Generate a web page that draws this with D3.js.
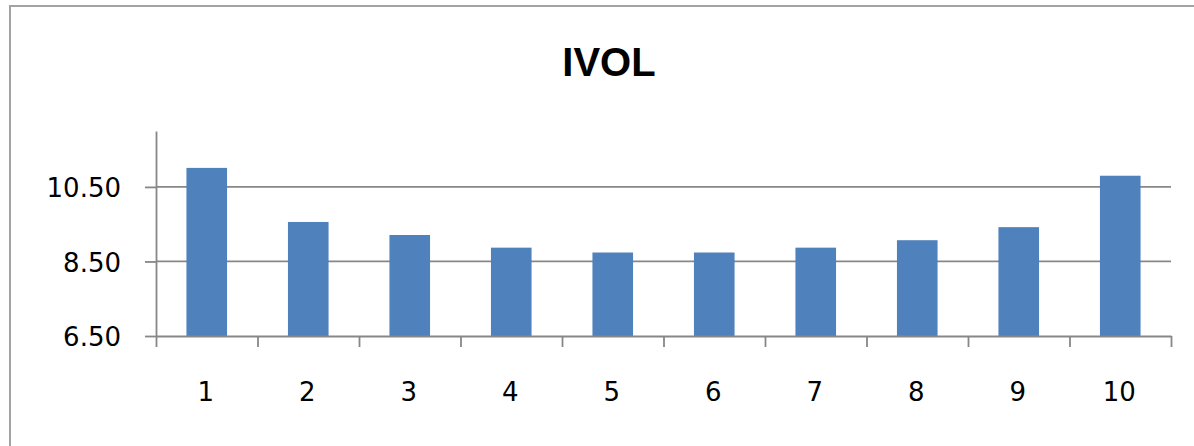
<!DOCTYPE html>
<html>
<head>
<meta charset="utf-8">
<script src="https://cdn.jsdelivr.net/npm/d3@7"></script>
<style>
  html, body { margin: 0; padding: 0; background: #fff; }
  svg { display: block; }
</style>
</head>
<body>
<svg id="chart" width="1194" height="446"></svg>
<script>
// Deciles 1..10 and their IVOL values
const categories = ["1", "2", "3", "4", "5", "6", "7", "8", "9", "10"];
const ivol = [11.01, 9.56, 9.21, 8.87, 8.74, 8.74, 8.87, 9.07, 9.42, 10.80];
const yTicks = [6.5, 8.5, 10.5];
const chartTitle = "IVOL";

const svg = d3.select("#chart");
const W = 1194, H = 446;
const plot = { left: 156, right: 1171, top: 131, bottom: 336 };
const lineColor = "#878787";

// Chart frame (only top and left edges fall inside the view)
svg.append("rect")
  .attr("x", 10).attr("y", 6)
  .attr("width", W + 40).attr("height", H + 40)
  .attr("fill", "#fff")
  .attr("stroke", "#a3a3a3")
  .attr("stroke-width", 2);

const y = d3.scaleLinear().domain([6.5, 12]).range([plot.bottom, plot.top]);
const x = d3.scaleBand().domain(categories)
  .range([plot.left, plot.right])
  .paddingInner(0.6).paddingOuter(0.3);
const xEdge = d3.scaleLinear().domain([0, categories.length]).range([plot.left, plot.right]);

// Horizontal gridlines
svg.append("g").selectAll("line")
  .data(yTicks.filter(d => d > 6.5))
  .join("line")
  .attr("x1", plot.left).attr("x2", plot.right)
  .attr("y1", d => y(d)).attr("y2", d => y(d))
  .attr("stroke", lineColor).attr("stroke-width", 1.8);

// Bars
svg.append("g").selectAll("rect")
  .data(ivol)
  .join("rect")
  .attr("x", (d, i) => x(categories[i]))
  .attr("width", x.bandwidth())
  .attr("y", d => y(d))
  .attr("height", d => y(6.5) - y(d))
  .attr("fill", "#4f81bd");

// Y axis
const yAxis = svg.append("g")
  .attr("transform", `translate(${plot.left},0)`)
  .call(d3.axisLeft(y).tickValues(yTicks).tickFormat(d3.format(".2f"))
    .tickSize(11).tickSizeOuter(0).tickPadding(24));
yAxis.select(".domain").attr("stroke", lineColor).attr("stroke-width", 1.8);
yAxis.selectAll(".tick line").attr("stroke", lineColor).attr("stroke-width", 1.8);
yAxis.selectAll(".tick text")
  .attr("dy", "0.38em")
  .attr("fill", "#000")
  .style("font-family", "'DejaVu Sans', sans-serif")
  .style("font-size", "26px");

// X axis line with tick marks between categories
const xAxis = svg.append("g")
  .attr("transform", `translate(0,${plot.bottom})`)
  .call(d3.axisBottom(xEdge).tickValues(d3.range(0, categories.length + 1))
    .tickFormat("").tickSize(11).tickSizeOuter(0));
xAxis.select(".domain").attr("stroke", lineColor).attr("stroke-width", 1.8);
xAxis.selectAll(".tick line").attr("stroke", lineColor).attr("stroke-width", 1.8);

// Category labels
svg.append("g").selectAll("text")
  .data(categories)
  .join("text")
  .attr("x", d => x(d) + x.bandwidth() / 2 - 1)
  .attr("y", 401)
  .attr("text-anchor", "middle")
  .attr("fill", "#000")
  .style("font-family", "'DejaVu Sans', sans-serif")
  .style("font-size", "26px")
  .text(d => d);

// Title
svg.append("text")
  .attr("x", 609).attr("y", 76)
  .attr("text-anchor", "middle")
  .attr("fill", "#000")
  .style("font-family", "'Liberation Sans', Arial, sans-serif")
  .style("font-weight", "bold")
  .style("font-size", "40px")
  .text(chartTitle);
</script>
</body>
</html>
